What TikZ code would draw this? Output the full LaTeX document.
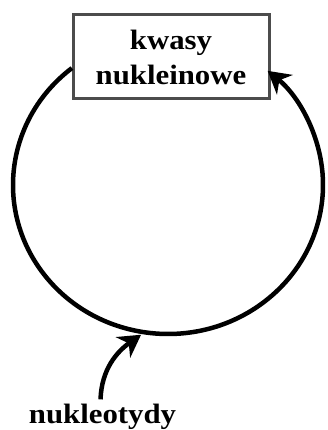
\documentclass[tikz,border=0pt]{standalone}
\usepackage{fontspec}
\setmainfont{Liberation Serif}[FakeStretch=1.1]
\usetikzlibrary{arrows.meta, positioning, calc}
\tikzset{
  acidnode/.style={draw=black!70, line width=3pt, fill=white, minimum width=196pt, minimum height=84pt, inner sep=0pt, align=center, font=\fontsize{28}{35}\selectfont\bfseries},
  labnode/.style={inner sep=0pt, font=\fontsize{28}{35}\selectfont\bfseries},
  cyclearc/.style={line width=4.5pt, -{Stealth[length=22pt, width=25pt, inset=7pt]}},
}
\begin{document}
\begin{tikzpicture}[x=1pt, y=1pt]
  \useasboundingbox (0,0) rectangle (327,430);
  \coordinate (c) at (168,245);
  \node[acidnode] (na) at (171,373) {kwasy\\nukleinowe};
  \node[labnode, anchor=base] (nt) at (102.5,6) {nukleotydy};
  \coordinate (tip) at ($(c)+(260:155pt and 149pt)+(0,-3)$);
  % cycle round the box
  \draw[cyclearc] ([shift={(128.3:155pt and 149pt)}]c) arc[start angle=128.3, end angle=410, x radius=155pt, y radius=149pt];
  \draw[cyclearc] ([xshift=-2pt, yshift=5pt]nt.north) to[out=88, in=215] (tip);
\end{tikzpicture}
\end{document}
